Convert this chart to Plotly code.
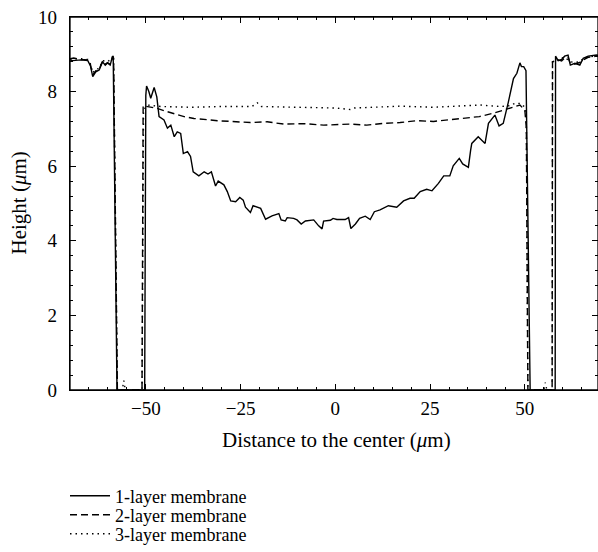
import plotly.graph_objects as go

# ---------------- data ----------------
x_1layer = [-70.0, -69.3, -67.1, -65.3, -64.6, -64.0, -63.2, -62.3, -61.4, -60.7, -60.1, -59.4, -58.8, -58.6, -57.6,
            -50.3, -50.0, -49.8, -49.2, -48.7, -47.8, -47.1, -46.5, -45.2, -44.3, -43.4, -42.5, -41.7, -40.8, -40.1, -39.0,
            -38.2, -37.5, -36.0, -34.6, -33.6, -32.7, -31.6, -30.9, -29.4, -28.5, -27.6, -26.3, -25.2, -24.3, -23.7, -22.4,
            -21.7, -19.7, -18.4, -16.7, -14.9, -14.3, -13.2, -12.7, -11.0, -10.1, -9.0, -7.9, -5.7, -4.4, -3.5, -3.1, -1.3,
            -0.6, 0.4, 2.6, 3.5, 4.1, 5.3, 6.4, 7.9, 9.2, 10.3, 11.8, 14.0, 16.2, 18.0, 19.7, 20.8, 22.4, 24.1, 25.5, 27.2,
            28.6, 30.2, 31.1, 32.7, 33.6, 35.1, 35.7, 36.0, 37.7, 39.5, 40.4, 42.1, 43.2, 44.3, 45.6, 47.0, 47.9, 48.7, 49.1,
            49.7, 50.3, 51.4, 58.0, 58.1, 58.8, 59.7, 60.5, 61.4, 62.0, 63.2, 64.5, 65.4, 66.7, 68.9, 70.0]
h_1layer = [8.85, 8.83, 8.85, 8.83, 8.69, 8.40, 8.53, 8.58, 8.80, 8.71, 8.77, 8.71, 8.94, 8.94, 0.0,
            0.0, 7.90, 8.15, 8.00, 7.82, 8.11, 7.86, 7.33, 7.24, 7.02, 7.10, 6.79, 6.92, 6.88, 6.34, 6.39,
            6.26, 5.85, 5.74, 5.85, 5.79, 5.85, 5.47, 5.60, 5.50, 5.32, 5.07, 5.05, 5.16, 5.09, 4.90, 4.76,
            4.94, 4.87, 4.58, 4.67, 4.73, 4.56, 4.53, 4.62, 4.60, 4.56, 4.45, 4.53, 4.56, 4.40, 4.32, 4.53, 4.55,
            4.60, 4.57, 4.57, 4.62, 4.33, 4.45, 4.60, 4.66, 4.57, 4.78, 4.83, 4.94, 4.90, 5.07, 5.14, 5.14, 5.32, 5.38, 5.34, 5.54,
            5.74, 5.74, 6.01, 6.21, 6.06, 5.97, 6.43, 6.61, 6.79, 6.61, 7.15, 7.37, 7.08, 7.15, 7.70, 8.35, 8.49, 8.77, 8.67,
            8.67, 8.56, 0.0, 0.0, 8.95, 8.83, 8.86, 8.95, 8.98, 8.71, 8.76, 8.71, 8.89, 8.95, 8.98, 8.96]

x_2layer = [-70.0, -69.0, -67.1, -65.3, -64.6, -64.0, -63.2, -62.3, -61.4, -60.7, -60.1, -59.4, -58.8, -58.5, -57.5,
            -51.0, -50.7, -49.6, -47.0, -44.3, -39.9, -37.3, -31.1, -22.4, -18.0, -13.6, -8.0, -3.1, 3.9, 8.3, 12.7,
            17.1, 21.5, 25.9, 30.3, 34.6, 38.0, 41.7, 45.0, 47.0, 48.7, 50.0, 50.4, 50.8,
            57.2, 57.3, 58.8, 59.7, 60.5, 61.4, 62.0, 63.2, 64.5, 65.4, 66.7, 68.9, 70.0]
h_2layer = [8.88, 8.90, 8.86, 8.85, 8.72, 8.45, 8.56, 8.60, 8.82, 8.73, 8.78, 8.73, 8.92, 8.90, 0.0,
            0.0, 7.62, 7.60, 7.55, 7.46, 7.33, 7.28, 7.22, 7.17, 7.19, 7.13, 7.14, 7.10, 7.13, 7.10, 7.15,
            7.17, 7.22, 7.20, 7.25, 7.28, 7.33, 7.42, 7.52, 7.60, 7.64, 7.50, 7.00, 0.0,
            0.0, 8.80, 8.85, 8.82, 8.90, 8.92, 8.75, 8.74, 8.78, 8.85, 8.92, 8.95, 8.94]

x_3layer = [-70.0, -67.0, -65.3, -64.6, -64.0, -63.2, -62.3, -61.4, -60.1, -58.8, -58.5, -57.5,
            -56.2, -55.8, -55.4, -51.0, -50.6, -49.6, -46.0, -38.2, -30.0, -22.0, -20.6, -19.5, -10.0, 0.0, 3.9, 5.0,
            10.0, 17.1, 25.9, 34.6, 38.2, 43.4, 46.0, 47.5, 49.0, 50.0, 50.4, 50.8,
            55.0, 55.4, 55.8, 57.2, 57.3, 58.8, 60.5, 62.0, 63.2, 64.5, 65.4, 66.7, 68.9, 70.0]
h_3layer = [8.87, 8.88, 8.86, 8.74, 8.50, 8.60, 8.62, 8.83, 8.80, 8.90, 8.88, 0.0,
            0.0, 0.25, 0.0, 0.0, 7.50, 7.64, 7.60, 7.58, 7.60, 7.60, 7.70, 7.60, 7.58, 7.56, 7.52, 7.56,
            7.58, 7.61, 7.58, 7.61, 7.64, 7.60, 7.62, 7.69, 7.68, 7.58, 7.20, 0.0,
            0.0, 0.2, 0.0, 0.0, 8.80, 8.86, 8.92, 8.80, 8.78, 8.80, 8.88, 8.93, 8.96, 8.95]

series_names = ["1-layer membrane", "2-layer membrane", "3-layer membrane"]
x_tick_values = [-50, -25, 0, 25, 50]
y_tick_values = [0, 2, 4, 6, 8, 10]
x_range = [-70, 69.3]
y_range = [0, 10]
x_title = "Distance to the center (<i>μ</i>m)"
y_title = "Height (<i>μ</i>m)"

FONT = "Liberation Serif"
TICK_SIZE = 19
TEXT_SIZE = 21
LEGEND_SIZE = 18

W, H = 598, 552

fig = go.Figure()
fig.add_trace(go.Scatter(x=x_3layer, y=h_3layer, mode="lines", name=series_names[2], legend="legend3",
                         line=dict(color="black", width=1.4, dash="1.5px,4px")))
fig.add_trace(go.Scatter(x=x_2layer, y=h_2layer, mode="lines", name=series_names[1], legend="legend2",
                         line=dict(color="black", width=1.4, dash="7px,4px")))
fig.add_trace(go.Scatter(x=x_1layer, y=h_1layer, mode="lines", name=series_names[0], legend="legend",
                         line=dict(color="black", width=1.4)))
# empty helper trace so the top/right frame axes are drawn
fig.add_trace(go.Scatter(x=[None], y=[None], xaxis="x2", yaxis="y2", mode="lines",
                         showlegend=False, hoverinfo="skip"))

leg_common = dict(xref="container", yref="container", x=65 / W, xanchor="left", yanchor="middle",
                  font=dict(family=FONT, size=LEGEND_SIZE, color="black"), bgcolor="rgba(0,0,0,0)",
                  itemwidth=40, borderwidth=0)
y_leg = [1 - 496 / H, 1 - 515 / H, 1 - 534 / H]

tick_style = dict(ticks="inside", ticklen=6, tickwidth=1, tickcolor="black",
                  showline=True, linecolor="black", linewidth=1.3,
                  showgrid=False, zeroline=False, automargin=False,
                  tickfont=dict(family=FONT, size=TICK_SIZE, color="black"))
x_minor = dict(dtick=5, tick0=0, ticks="inside", ticklen=3, tickwidth=1, tickcolor="black", showgrid=False)
y_minor = dict(dtick=0.4, tick0=0, ticks="inside", ticklen=3, tickwidth=1, tickcolor="black", showgrid=False)

fig.update_layout(
    template="none",
    width=W, height=H,
    margin=dict(l=70, r=0, t=17, b=162, autoexpand=False),
    paper_bgcolor="white", plot_bgcolor="white",
    font=dict(family=FONT, size=TICK_SIZE, color="black"),
    showlegend=True,
    legend=dict(**leg_common, y=y_leg[0]),
    legend2=dict(**leg_common, y=y_leg[1]),
    legend3=dict(**leg_common, y=y_leg[2]),
    xaxis=dict(**tick_style, range=x_range, tickmode="array", tickvals=x_tick_values,
               minor=x_minor, ticklabelstandoff=1, mirror="ticks"),
    yaxis=dict(**tick_style, range=y_range, tickmode="array", tickvals=y_tick_values,
               minor=y_minor, ticklabelstandoff=8, ticklabeloverflow="allow", mirror="ticks"),
    # frame axes on the top and right (ticks only, no labels)
    xaxis2=dict(**tick_style, range=x_range, tickmode="array", tickvals=x_tick_values, minor=x_minor,
                overlaying="x", side="top", anchor="y2", showticklabels=False),
    yaxis2=dict(**tick_style, range=y_range, tickmode="array", tickvals=y_tick_values, minor=y_minor,
                overlaying="y", side="right", anchor="x2", showticklabels=False),
    shapes=[dict(type="rect", xref="paper", yref="paper", x0=0, x1=1, y0=0, y1=1,
                 line=dict(color="black", width=1.3), fillcolor="rgba(0,0,0,0)", layer="above")],
    annotations=[
        dict(text=x_title, xref="paper", yref="paper", x=0.505, y=-50 / 373, xanchor="center", yanchor="middle",
             showarrow=False, font=dict(family=FONT, size=TEXT_SIZE, color="black")),
        dict(text=y_title, xref="paper", yref="paper", x=-52 / 528, y=0.5, xanchor="center", yanchor="middle",
             textangle=-90, showarrow=False, font=dict(family=FONT, size=TEXT_SIZE, color="black")),
    ],
)

# remove the page's default 8px body margin so the figure fills the 598x552 window exactly
fig.write_html("out.html", config={"displayModeBar": False},
               post_script="document.body.style.margin='0';")
